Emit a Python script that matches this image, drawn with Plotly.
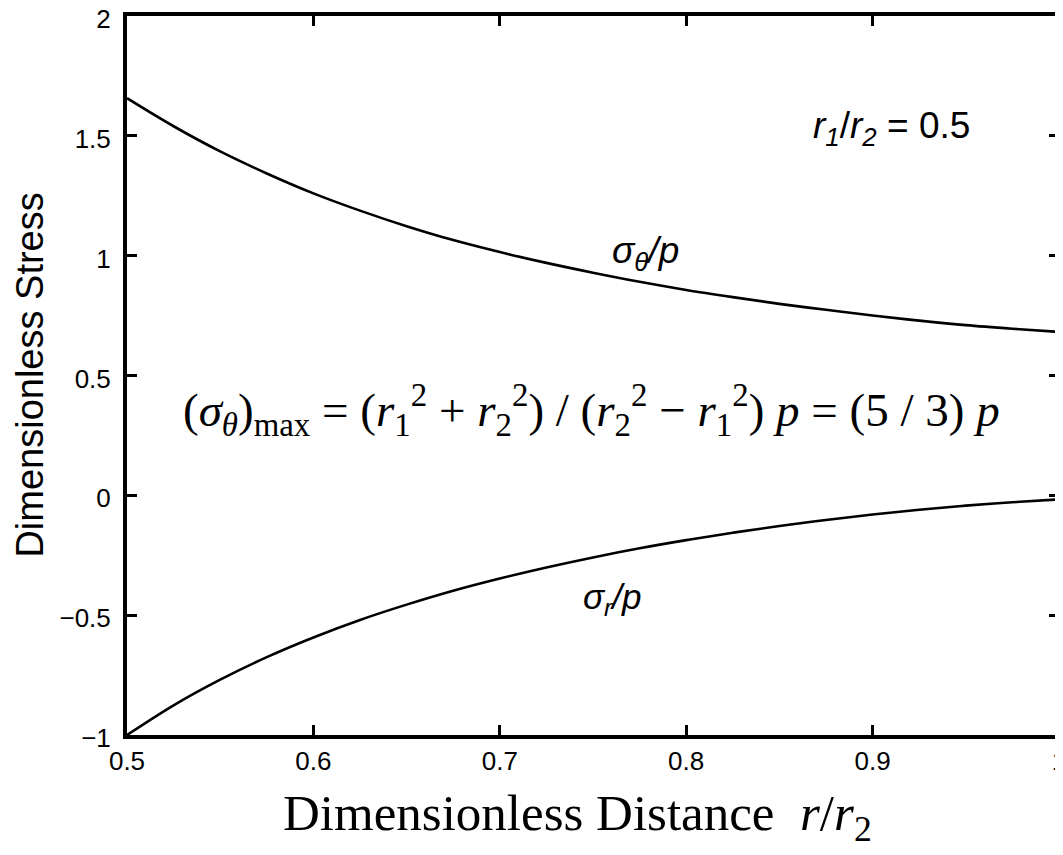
import plotly.graph_objects as go

# Data
r_ratio = [0.50, 0.525, 0.55, 0.575, 0.60, 0.625, 0.65, 0.675, 0.70, 0.725, 0.75,
           0.775, 0.80, 0.825, 0.85, 0.875, 0.90, 0.925, 0.95, 0.975, 1.00]
sigma_theta = [1.657, 1.540, 1.435, 1.343, 1.260, 1.188, 1.123, 1.065, 1.015, 0.970, 0.929,
               0.891, 0.857, 0.827, 0.799, 0.774, 0.750, 0.729, 0.710, 0.695, 0.682]
sigma_r = [-1.000, -0.876, -0.769, -0.675, -0.593, -0.520, -0.456, -0.398, -0.347, -0.301, -0.259,
           -0.221, -0.187, -0.156, -0.128, -0.103, -0.080, -0.060, -0.043, -0.029, -0.017]

x_ticks = [0.5, 0.6, 0.7, 0.8, 0.9, 1.0]
x_ticklabels = ["0.5", "0.6", "0.7", "0.8", "0.9", "1"]
y_ticks = [-1, -0.5, 0, 0.5, 1, 1.5, 2]
y_ticklabels = ["\u22121", "\u22120.5", "0", "0.5", "1", "1.5", "2"]

fig = go.Figure()
for ys in (sigma_theta, sigma_r):
    fig.add_trace(go.Scatter(x=r_ratio, y=ys, mode="lines",
                             line=dict(color="black", width=2.6, shape="spline"),
                             showlegend=False, hoverinfo="skip"))

sans = "Liberation Sans, Arial, sans-serif"
serif = "Liberation Serif, Times New Roman, serif"

axis_common = dict(showline=True, linewidth=4, linecolor="black", mirror="ticks",
                   ticks="inside", ticklen=10, tickwidth=3, tickcolor="black",
                   showgrid=False, zeroline=False, automargin=False,
                   ticklabeloverflow="allow",
                   tickfont=dict(family=sans, size=26, color="black"))

fig.update_xaxes(range=[0.5, 1.0], tickvals=x_ticks, ticktext=x_ticklabels,
                 ticklabelstandoff=0, **axis_common)
fig.update_yaxes(range=[-1, 2], tickvals=y_ticks, ticktext=y_ticklabels,
                 ticklabelstandoff=7, ticklabelshift=3, **axis_common)

annotations = [
    dict(x=0.910, y=1.531, xref="x", yref="y", showarrow=False,
         text="<i>r<sub>1</sub></i>/<i>r<sub>2</sub></i> = 0.5",
         font=dict(family=sans, size=37, color="black")),
    dict(x=0.778, y=1.012, xref="x", yref="y", showarrow=False,
         text="<i>\u03c3<sub>\u03b8</sub>/p</i>",
         font=dict(family=sans, size=37, color="black")),
    dict(x=0.760, y=-0.432, xref="x", yref="y", showarrow=False,
         text="<i>\u03c3<sub>r</sub>/p</i>",
         font=dict(family=sans, size=35, color="black")),
    dict(x=0.749, y=0.357, xref="x", yref="y", showarrow=False,
         text="(<i>\u03c3<sub>\u03b8</sub></i>)<sub>max</sub> = (<i>r</i><sub>1</sub><sup>2</sup> + <i>r</i><sub>2</sub><sup>2</sup>) / (<i>r</i><sub>2</sub><sup>2</sup> \u2212 <i>r</i><sub>1</sub><sup>2</sup>) <i>p</i> = (5 / 3) <i>p</i>",
         font=dict(family=serif, size=47, color="black")),
    dict(x=-0.1045, y=0.5007, xref="paper", yref="paper", showarrow=False, textangle=-90,
         xanchor="center", yanchor="middle",
         text="Dimensionless Stress",
         font=dict(family=sans, size=38, color="black")),
    dict(x=0.4838, y=-0.114, xref="paper", yref="paper", showarrow=False,
         xanchor="center", yanchor="middle",
         text="Dimensionless Distance  <i>r</i>/<i>r</i><sub>2</sub>",
         font=dict(family=serif, size=51, color="black")),
]

# page body adds an 8px margin around the figure, so the figure is sized to fit the window
fig.update_layout(width=1055, height=839,
                  margin=dict(l=119, r=4, t=8, b=112),
                  plot_bgcolor="white", paper_bgcolor="white",
                  annotations=annotations)

fig.write_html("out.html")
